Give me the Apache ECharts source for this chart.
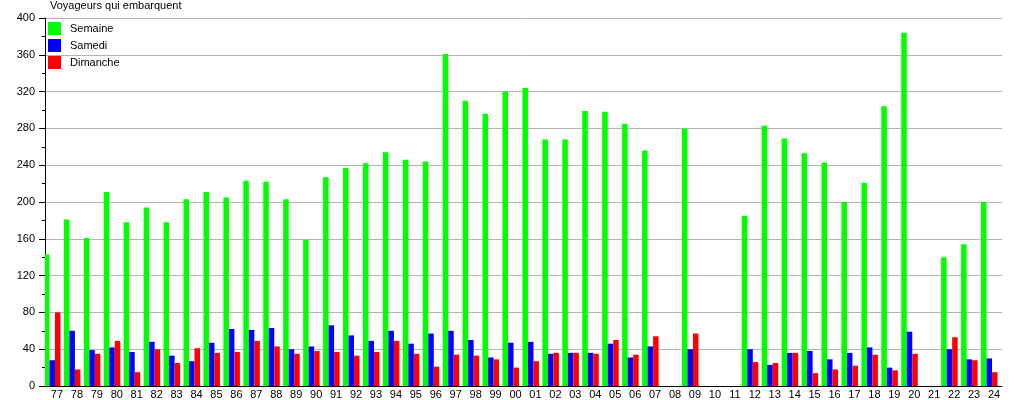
<!DOCTYPE html>
<html>
<head>
<meta charset="utf-8">
<script src="https://cdn.jsdelivr.net/npm/echarts@6/dist/echarts.min.js"></script>
<style>
html,body{margin:0;padding:0;background:#fff;}
#chart{width:1015px;height:400px;}
</style>
</head>
<body>
<div id="chart"></div>
<script>
const categories = ['77','78','79','80','81','82','83','84','85','86','87','88','89','90','91','92','93','94','95','96','97','98','99','00','01','02','03','04','05','06','07','08','09','10','11','12','13','14','15','16','17','18','19','20','21','22','23','24'];
const semaine  = [143,181,161,211,178,194,178,203,211,205,223,222,203,159,227,237,242,254,246,244,361,310,296,320,324,268,268,299,298,285,256,0,280,0,0,185,283,269,253,243,200,221,304,384,0,140,154,200];
const samedi   = [28,60,39,42,37,48,33,27,47,62,61,63,40,43,66,55,49,60,46,57,60,50,31,47,48,35,36,36,46,31,43,0,40,0,0,40,23,36,38,29,36,42,20,59,0,40,29,30];
const dimanche = [80,18,35,49,15,40,25,41,36,37,49,43,35,38,37,33,37,49,35,21,34,33,29,20,27,36,36,35,50,34,54,0,57,0,0,26,25,36,14,18,22,34,17,35,0,53,28,15];
const spacer   = categories.map(() => null);
const yTicks = {min: 0, max: 400, step: 40};

const font = 'Liberation Sans, Arial, sans-serif';
const chart = echarts.init(document.getElementById('chart'), null, {renderer: 'canvas'});
const barCommon = {type: 'bar', barWidth: 5.5, barGap: '0%', barCategoryGap: '0%', animation: false};
chart.setOption({
  animation: false,
  backgroundColor: '#ffffff',
  title: {
    text: 'Voyageurs qui embarquent',
    left: 50, top: 0, padding: 0,
    textStyle: {fontFamily: font, fontSize: 11, fontWeight: 'normal', color: '#000'}
  },
  legend: {
    data: ['Semaine', 'Samedi', 'Dimanche'],
    orient: 'vertical', left: 48, top: 22, padding: 0,
    itemWidth: 13, itemHeight: 13, itemGap: 4,
    icon: 'rect',
    textStyle: {fontFamily: font, fontSize: 11, color: '#000', padding: [0, 0, 0, 4]}
  },
  grid: {left: 45, right: 13, top: 18, bottom: 13, containLabel: false},
  xAxis: {
    type: 'category',
    data: categories,
    axisLine: {lineStyle: {color: '#000', width: 1}},
    axisTick: {show: false},
    axisLabel: {interval: 0, margin: 3, fontFamily: font, fontSize: 11, color: '#000', padding: [0, 0, 0, 4]},
    splitLine: {show: false}
  },
  yAxis: {
    type: 'value',
    min: yTicks.min, max: yTicks.max, interval: yTicks.step,
    axisLine: {show: true, lineStyle: {color: '#000', width: 1}},
    axisTick: {show: true, length: 6, lineStyle: {color: '#000'}},
    minorTick: {show: true, splitNumber: 2, length: 3, lineStyle: {color: '#000'}},
    axisLabel: {margin: 10, fontFamily: font, fontSize: 11, color: '#000'},
    splitLine: {show: true, lineStyle: {color: '#b4b4b4', width: 1}}
  },
  series: [
    Object.assign({}, barCommon, {name: 'Semaine', data: semaine, itemStyle: {color: '#00ff00'}}),
    Object.assign({}, barCommon, {name: 'Samedi', data: samedi, itemStyle: {color: '#0000ff'}}),
    Object.assign({}, barCommon, {name: 'Dimanche', data: dimanche, itemStyle: {color: '#ff0000'}}),
    Object.assign({}, barCommon, {name: 'spacer', data: spacer, itemStyle: {color: 'rgba(0,0,0,0)'}, silent: true})
  ]
});
</script>
</body>
</html>
